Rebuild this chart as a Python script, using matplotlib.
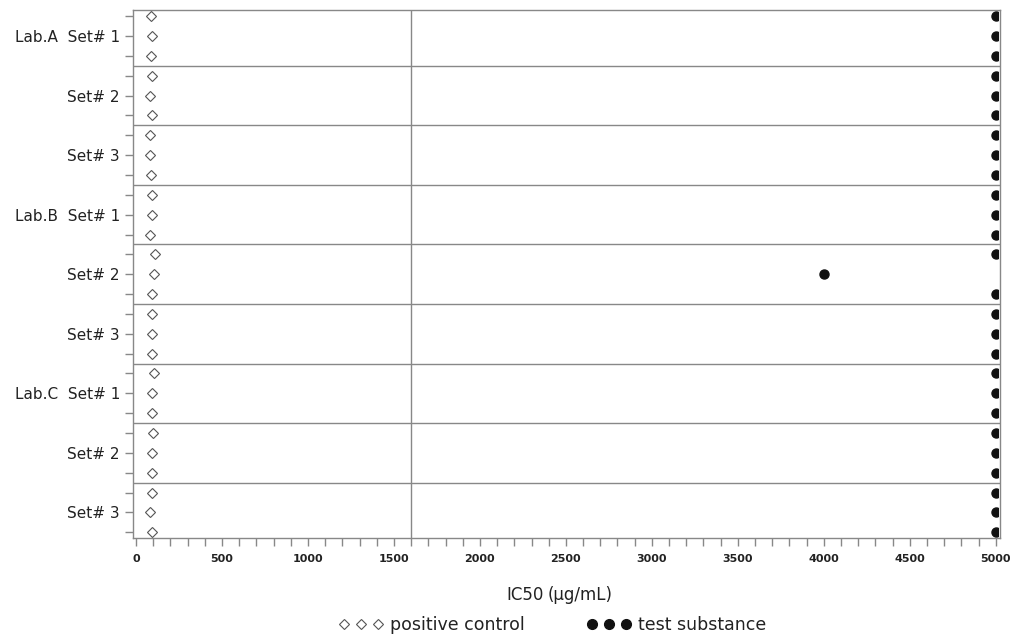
import numpy as np
import matplotlib.pyplot as plt
from matplotlib.lines import Line2D
from matplotlib.patches import Rectangle

# one row per replicate, three replicates per set, top to bottom
LABS = ["Lab.A", "Lab.B", "Lab.C"]
SETS = ["Set# 1", "Set# 2", "Set# 3"]
positive_control = [88, 95, 88, 95, 82, 95, 82, 82, 88,
                    95, 95, 82, 110, 105, 95, 95, 95, 95,
                    105, 95, 95, 100, 95, 95, 95, 82, 95]
test_substance = [5000, 5000, 5000, 5000, 5000, 5000, 5000, 5000, 5000,
                  5000, 5000, 5000, 5000, 4000, 5000, 5000, 5000, 5000,
                  5000, 5000, 5000, 5000, 5000, 5000, 5000, 5000, 5000]
cutoff = 1600

rows = np.arange(len(positive_control))
set_labels = []
for lab in LABS:
    for i, s in enumerate(SETS):
        set_labels.append(f"{lab}  {s}" if i == 0 else s)

fig = plt.figure(figsize=(10.16, 6.4), dpi=100)
ax = fig.add_axes([0.131, 0.159, 0.853, 0.825])

grey = "#888888"
txt = "#222222"

for y in np.arange(2.5, len(rows) - 1, 3):
    ax.axhline(y, color=grey, lw=1.0, zorder=1)
ax.axvline(cutoff, color=grey, lw=1.0, zorder=1)

ax.plot(positive_control, rows, linestyle="none", marker="D", markersize=5.5,
        markerfacecolor="white", markeredgecolor="#555555", markeredgewidth=0.8, zorder=3)
dots, = ax.plot(test_substance, rows, linestyle="none", marker="o", markersize=6.5,
                markerfacecolor="#111111", markeredgecolor="#111111", zorder=3)
dots.set_clip_path(Rectangle((-100, -1), 5115, 30, transform=ax.transData))

ax.set_xlim(-17, 5023)
ax.set_ylim(len(rows) - 1 + 0.3, -0.3)

ax.set_xticks(np.arange(0, 5001, 500))
ax.set_xticks(np.arange(0, 5001, 100), minor=True)
ax.set_yticks(rows, minor=True)
ax.set_yticks(rows[1::3])
ax.set_yticklabels(set_labels, fontsize=11, color=txt)
for lbl in ax.get_xticklabels():
    lbl.set_fontsize(8)
    lbl.set_color(txt)
    lbl.set_fontweight("bold")

ax.tick_params(axis="both", which="both", direction="out", length=6, color=grey, width=1)
ax.tick_params(axis="x", which="major", pad=5)
for sp in ax.spines.values():
    sp.set_color(grey)
    sp.set_linewidth(1.0)

ax.text(0.474, -0.108, "IC50", transform=ax.transAxes, ha="right", va="center",
        fontsize=12, color=txt)
ax.text(0.478, -0.107, "(μg/mL)", transform=ax.transAxes, ha="left", va="center",
        fontsize=12, color=txt)

handles = [
    Line2D([], [], linestyle="none", marker="D", markersize=5.5, markerfacecolor="white",
           markeredgecolor="#555555", markeredgewidth=0.8),
    Line2D([], [], linestyle="none", marker="o", markersize=7, markerfacecolor="#111111",
           markeredgecolor="#111111"),
]
leg = ax.legend(handles, ["positive control", "test substance"], numpoints=3, ncol=2,
                loc="center", bbox_to_anchor=(0.484, -0.165), frameon=False,
                fontsize=12.5, handlelength=2.55, handletextpad=0.4, columnspacing=3.6)
for t in leg.get_texts():
    t.set_color(txt)

fig.savefig("out.png", dpi=100)
